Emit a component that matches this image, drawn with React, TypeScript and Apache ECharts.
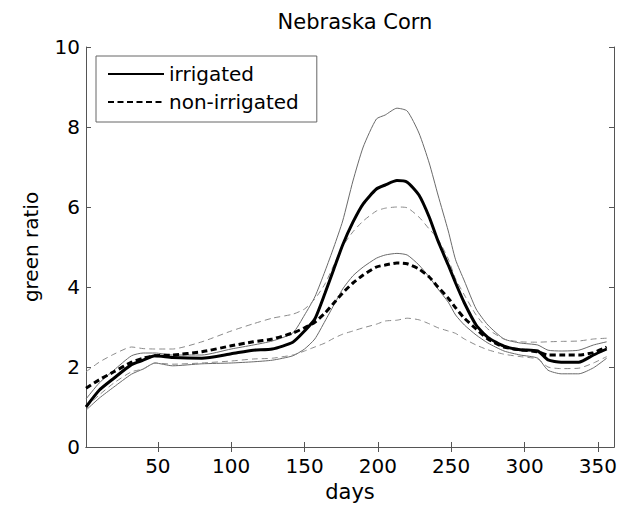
import React, { useEffect, useRef } from "react";
import * as echarts from "echarts";

const days = [1, 10, 20, 32, 40, 48, 60, 80, 100, 115, 128, 142, 150, 157, 164, 170, 176, 183, 190, 199, 205, 213, 220, 228, 235, 241, 248, 253, 259, 267, 275, 286, 297, 309, 316, 325, 337, 347, 356];

const irrMean = [1.0, 1.42, 1.72, 2.06, 2.17, 2.28, 2.24, 2.22, 2.33, 2.42, 2.45, 2.62, 2.9, 3.2, 3.85, 4.45, 5.05, 5.62, 6.08, 6.45, 6.55, 6.66, 6.62, 6.3, 5.75, 5.15, 4.55, 4.1, 3.6, 3.05, 2.74, 2.52, 2.43, 2.4, 2.18, 2.12, 2.12, 2.3, 2.45];
const irrHi = [1.2, 1.6, 1.92, 2.28, 2.35, 2.35, 2.3, 2.3, 2.45, 2.55, 2.65, 2.85, 3.3, 3.75, 4.4, 5.0, 5.65, 6.65, 7.5, 8.2, 8.3, 8.47, 8.4, 7.85, 7.1, 6.3, 5.4, 4.68, 4.15, 3.45, 3.05, 2.7, 2.6, 2.55, 2.42, 2.4, 2.42, 2.55, 2.63];
const irrLo = [0.92, 1.22, 1.5, 1.82, 1.95, 2.1, 2.03, 2.08, 2.1, 2.13, 2.17, 2.28, 2.45, 2.7, 3.15, 3.55, 3.95, 4.28, 4.5, 4.72, 4.8, 4.84, 4.8, 4.55, 4.25, 3.95, 3.62, 3.3, 3.05, 2.8, 2.6, 2.4, 2.3, 2.22, 1.92, 1.83, 1.83, 1.98, 2.22];

const nonMean = [1.47, 1.68, 1.88, 2.12, 2.22, 2.28, 2.3, 2.38, 2.53, 2.63, 2.7, 2.85, 2.98, 3.12, 3.35, 3.6, 3.85, 4.1, 4.3, 4.5, 4.55, 4.6, 4.58, 4.45, 4.25, 4.0, 3.72, 3.48, 3.22, 2.95, 2.7, 2.5, 2.43, 2.38, 2.3, 2.3, 2.3, 2.36, 2.5];
const nonHi = [1.88, 2.12, 2.32, 2.5, 2.46, 2.45, 2.45, 2.63, 2.9, 3.08, 3.22, 3.32, 3.45, 3.7, 4.08, 4.55, 5.02, 5.38, 5.65, 5.9, 5.97, 6.0, 5.98, 5.75, 5.45, 5.2, 4.7, 4.2, 3.8, 3.3, 2.95, 2.7, 2.63, 2.62, 2.63, 2.64, 2.65, 2.7, 2.72];
const nonLo = [1.0, 1.3, 1.6, 1.88, 1.95, 2.1, 2.07, 2.1, 2.15, 2.2, 2.22, 2.3, 2.4, 2.5, 2.6, 2.72, 2.82, 2.9, 2.98, 3.07, 3.15, 3.17, 3.22, 3.18, 3.08, 2.98, 2.9, 2.84, 2.7, 2.55, 2.43, 2.32, 2.26, 2.2, 2.0, 1.96, 1.97, 2.1, 2.26];

const xTicks = [50, 100, 150, 200, 250, 300, 350];
const FONT = "DejaVu Sans";

const pairs = (vals: number[]) => days.map((d, i) => [d, vals[i]]);

export default function App() {
  const ref = useRef<HTMLDivElement>(null);
  useEffect(() => {
    if (!ref.current) return;
    const chart = echarts.init(ref.current, undefined, { renderer: "svg" });
    const axisLine = { show: true, lineStyle: { color: "#555", width: 1 } };
    const tick = { show: true, inside: true, length: 5, lineStyle: { color: "#555" } };
    const labelStyle = { fontFamily: FONT, fontSize: 20, color: "#000" };
    const thin = (name: string, vals: number[], dashed: boolean) => ({
      name,
      type: "line",
      data: pairs(vals),
      symbol: "none",
      smooth: 0.2,
      silent: true,
      lineStyle: dashed
        ? { color: "#8a8a8a", width: 1, type: [6, 4] }
        : { color: "#6a6a6a", width: 1, type: "solid" },
      z: 2,
    });
    chart.setOption({
      animation: false,
      backgroundColor: "#fff",
      title: {
        text: "Nebraska Corn",
        left: 350,
        top: 6,
        textAlign: "center",
        textStyle: { fontFamily: FONT, fontSize: 21, fontWeight: "normal", color: "#000" },
      },
      grid: { left: 86, right: 7, top: 47, bottom: 62 },
      legend: {
        data: ["irrigated", "non-irrigated"],
        left: 96,
        top: 56,
        orient: "vertical",
        itemWidth: 56,
        itemHeight: 14,
        itemGap: 6,
        padding: [7, 18, 9, 11],
        borderColor: "#666",
        borderWidth: 1,
        backgroundColor: "#fff",
        itemStyle: { color: "rgba(0,0,0,0)", borderWidth: 0, opacity: 0 },
        textStyle: { fontFamily: FONT, fontSize: 20, color: "#000", lineHeight: 22 },
      },
      xAxis: [
        {
          type: "value",
          min: 1,
          max: 361,
          position: "bottom",
          axisLine,
          axisTick: { ...tick, customValues: xTicks },
          axisLabel: { ...labelStyle, margin: 9, customValues: xTicks },
          splitLine: { show: false },
          name: "days",
          nameLocation: "middle",
          nameGap: 34,
          nameTextStyle: { ...labelStyle, fontSize: 21 },
        },
        {
          type: "value",
          min: 1,
          max: 361,
          position: "top",
          axisLine,
          axisTick: { ...tick, customValues: xTicks },
          axisLabel: { show: false },
          splitLine: { show: false },
        },
      ],
      yAxis: [
        {
          type: "value",
          min: 0,
          max: 10,
          interval: 2,
          position: "left",
          axisLine,
          axisTick: tick,
          axisLabel: { ...labelStyle, margin: 6 },
          splitLine: { show: false },
          name: "green ratio",
          nameLocation: "middle",
          nameGap: 45,
          nameTextStyle: labelStyle,
        },
        {
          type: "value",
          min: 0,
          max: 10,
          interval: 2,
          position: "right",
          axisLine,
          axisTick: tick,
          axisLabel: { show: false },
          splitLine: { show: false },
        },
      ],
      series: [
        thin("irrigated +std", irrHi, false),
        thin("irrigated -std", irrLo, false),
        thin("non-irrigated +std", nonHi, true),
        thin("non-irrigated -std", nonLo, true),
        {
          name: "irrigated",
          type: "line",
          data: pairs(irrMean),
          symbol: "none",
          smooth: 0.2,
          lineStyle: { color: "#000", width: 3, type: "solid" },
          itemStyle: { color: "#000" },
          z: 4,
        },
        {
          name: "non-irrigated",
          type: "line",
          data: pairs(nonMean),
          symbol: "none",
          smooth: 0.2,
          lineStyle: { color: "#000", width: 3, type: [6, 3.5] },
          itemStyle: { color: "#000" },
          z: 4,
        },
      ],
    });
    return () => chart.dispose();
  }, []);
  return (
    <div
      ref={ref}
      style={{ position: "fixed", left: 0, top: 0, width: 621, height: 509, background: "#fff" }}
    />
  );
}
